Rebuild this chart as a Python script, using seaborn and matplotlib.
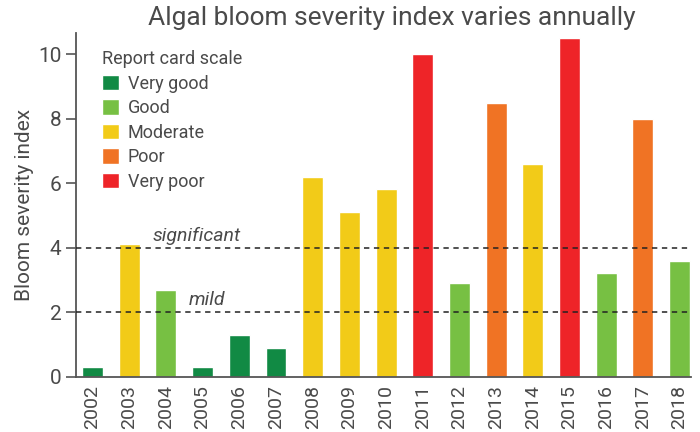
import pandas as pd
import seaborn as sns
import matplotlib.pyplot as plt

# Data
years = [str(y) for y in range(2002, 2019)]
severity = [0.3, 4.12, 2.69, 0.3, 1.29, 0.89, 6.2, 5.11, 5.82, 10.02,
            2.91, 8.5, 6.6, 10.5, 3.22, 8.0, 3.59]
ratings = ["Very good", "Moderate", "Good", "Very good", "Very good", "Very good",
           "Moderate", "Moderate", "Moderate", "Very poor", "Good", "Poor",
           "Moderate", "Very poor", "Good", "Poor", "Good"]
scale_order = ["Very good", "Good", "Moderate", "Poor", "Very poor"]
scale_colors = ["#118A44", "#77C043", "#F2CB18", "#F07324", "#EE2428"]
thresholds = [2, 4]
threshold_labels = ["mild", "significant"]

df = pd.DataFrame({"year": years, "severity": severity, "rating": ratings})

sns.set_style("white")
plt.rcParams['font.family'] = ['Roboto', 'DejaVu Sans']
text_color = "#4a4a4a"

fig = plt.figure(figsize=(7, 4.32), dpi=100)
ax = fig.add_axes([0.1086, 0.128, 0.878, 0.796])

sns.barplot(data=df, x="year", y="severity", hue="rating",
            hue_order=scale_order, palette=dict(zip(scale_order, scale_colors)),
            dodge=False, width=0.57, saturation=1, ax=ax)

# Threshold lines
for t, lab, xpos in zip(thresholds, threshold_labels, [2.62, 1.63]):
    ax.axhline(t, color="#222222", linestyle=(0, (3.5, 3)), linewidth=1.1, zorder=3)
    ax.text(xpos, t + 0.1, lab, style="italic", fontsize=14, color=text_color,
            ha="left", va="bottom")

ax.set_xlim(-0.45, 16.3)
ax.set_ylim(0, 10.67)
ax.set_yticks([0, 2, 4, 6, 8, 10])
ax.set_xlabel("")
ax.set_ylabel("Bloom severity index", fontsize=15, color=text_color, labelpad=3)
ax.tick_params(axis="y", direction="out", length=7, width=1.2, color="#555555",
               labelsize=15, labelcolor=text_color, left=True)
ax.tick_params(axis="x", length=0, labelsize=14, labelcolor=text_color,
               labelrotation=90, pad=6)
for s in ["top", "right"]:
    ax.spines[s].set_visible(False)
for s in ["left", "bottom"]:
    ax.spines[s].set_color("#555555")
    ax.spines[s].set_linewidth(1.3)

leg = ax.legend(title="Report card scale", loc="upper left",
                bbox_to_anchor=(0.03, 0.97), frameon=False, fontsize=13,
                title_fontsize=13, handlelength=0.95, handleheight=0.95,
                handletextpad=0.5, labelspacing=0.36, alignment="left",
                borderaxespad=0)
for txt in leg.get_texts():
    txt.set_color(text_color)
leg.get_title().set_color(text_color)

fig.suptitle("Algal bloom severity index varies annually", fontsize=19,
             color=text_color, x=0.56, y=0.985)

plt.savefig("out.png", dpi=100)
plt.close()
